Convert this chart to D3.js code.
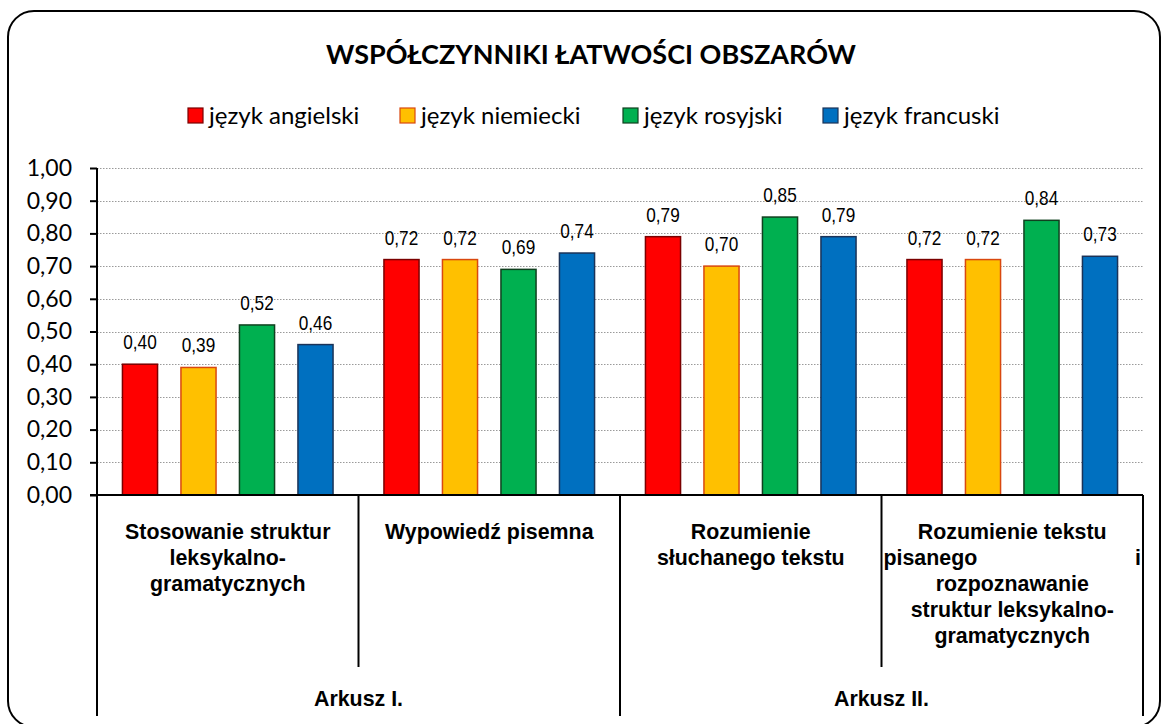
<!DOCTYPE html>
<html>
<head>
<meta charset="utf-8">
<script src="https://cdn.jsdelivr.net/npm/d3@7"></script>
<style>
  body { margin: 0; background: #fff; }
  svg { display: block; }
</style>
</head>
<body>
<div id="chart"></div>
<script>
// Data
const title = "WSPÓŁCZYNNIKI ŁATWOŚCI OBSZARÓW";
const series = ["język angielski", "język niemiecki", "język rosyjski", "język francuski"];
const categories = ["Stosowanie", "Wypowiedz", "Sluchany", "Pisany"];
const categoryLines = [
  ["Stosowanie struktur", "leksykalno-", "gramatycznych"],
  ["Wypowiedź pisemna"],
  ["Rozumienie", "słuchanego tekstu"],
  ["Rozumienie tekstu", "pisanego|i", "rozpoznawanie", "struktur leksykalno-", "gramatycznych"]
];
const sheets = ["Arkusz I.", "Arkusz II."];
const sheetOf = [0, 0, 1, 1];
const angielski = [0.40, 0.72, 0.79, 0.72];
const niemiecki = [0.39, 0.72, 0.70, 0.72];
const rosyjski  = [0.52, 0.69, 0.85, 0.84];
const francuski = [0.46, 0.74, 0.79, 0.73];
const yTicks = [0, 0.1, 0.2, 0.3, 0.4, 0.5, 0.6, 0.7, 0.8, 0.9, 1.0];

const fills   = ["#ff0000", "#ffc000", "#00b050", "#0070c0"];
const strokes = ["#7a0000", "#d9480f", "#10401f", "#1b3358"];
const values  = [angielski, niemiecki, rosyjski, francuski];

const W = 1162, H = 724;
const plot = { left: 97, right: 1143, top: 168, bottom: 495 };
const fmt = v => d3.format(".2f")(v).replace(".", ",");

const svg = d3.select("#chart").append("svg")
  .attr("width", W).attr("height", H);

// Arial Narrow look: Liberation Sans squeezed horizontally
function narrowText(parent, x, yy, anchor, txt, size, bold, sx = 0.82) {
  return parent.append("text")
    .attr("transform", `translate(${x},${yy}) scale(${sx},1)`)
    .attr("text-anchor", anchor)
    .style("font-family", "'Liberation Sans', Arial, sans-serif")
    .style("font-weight", bold ? "bold" : "normal")
    .style("font-size", size + "px")
    .text(txt);
}

// outer rounded frame
svg.append("rect")
  .attr("x", 8).attr("y", 11)
  .attr("width", 1152).attr("height", 716)
  .attr("rx", 26).attr("ry", 26)
  .attr("fill", "#fff")
  .attr("stroke", "#000")
  .attr("stroke-width", 2);

// title
svg.append("text")
  .attr("x", 591).attr("y", 64)
  .attr("text-anchor", "middle")
  .style("font-family", "Lato, 'Open Sans', sans-serif")
  .style("font-weight", "bold")
  .style("font-size", "27px")
  .text(title);

// legend
const legendX = [188, 400, 623, 823];
const legend = svg.append("g").attr("transform", "translate(0,116)");
series.forEach((s, i) => {
  legend.append("rect")
    .attr("x", legendX[i]).attr("y", -8)
    .attr("width", 15).attr("height", 15)
    .attr("fill", fills[i])
    .attr("stroke", strokes[i])
    .attr("stroke-width", 1.2);
  legend.append("text")
    .attr("x", legendX[i] + 21).attr("y", 8)
    .style("font-family", "Lato, 'Open Sans', sans-serif")
    .style("font-size", "24px")
    .text(s);
});

// scales
const y = d3.scaleLinear().domain([0, 1]).range([plot.bottom, plot.top]);
const x0 = d3.scaleBand().domain(categories).range([plot.left, plot.right]).padding(0);
const x1 = d3.scaleBand().domain(series).range([0, x0.bandwidth()])
  .paddingInner(0.4).paddingOuter(0.435);

// gridlines
svg.append("g")
  .selectAll("line")
  .data(yTicks.filter(d => d > 0))
  .join("line")
    .attr("x1", plot.left).attr("x2", plot.right)
    .attr("y1", d => Math.round(y(d)) + 0.5)
    .attr("y2", d => Math.round(y(d)) + 0.5)
    .attr("stroke", "#9a9a9a")
    .attr("stroke-width", 1)
    .attr("stroke-dasharray", "1.5,1.5");

// y axis
const yAxis = svg.append("g")
  .attr("transform", `translate(${plot.left},0)`)
  .call(d3.axisLeft(y).tickValues(yTicks).tickSize(7).tickPadding(18).tickFormat(fmt));
yAxis.select(".domain").attr("stroke", "#000").attr("stroke-width", 2).attr("d", `M0,${plot.top}V${plot.bottom}`);
yAxis.selectAll(".tick line").attr("stroke", "#000").attr("stroke-width", 2);
yAxis.selectAll(".tick text")
  .attr("fill", "#000")
  .style("font-family", "Lato, 'Open Sans', sans-serif")
  .style("font-size", "23px");

// bars
const groups = svg.append("g")
  .selectAll("g")
  .data(categories)
  .join("g")
    .attr("transform", d => `translate(${x0(d)},0)`);

groups.each(function(cat, ci) {
  const g = d3.select(this);
  series.forEach((s, si) => {
    const v = values[si][ci];
    g.append("rect")
      .attr("x", x1(s)).attr("y", y(v))
      .attr("width", x1.bandwidth())
      .attr("height", y(0) - y(v))
      .attr("fill", fills[si])
      .attr("stroke", strokes[si])
      .attr("stroke-width", 1.5);
    narrowText(g, x1(s) + x1.bandwidth() / 2, y(v) - 15, "middle", fmt(v), 21, false);
  });
});

// x axis baseline
svg.append("line")
  .attr("x1", plot.left - 7).attr("x2", plot.right)
  .attr("y1", plot.bottom).attr("y2", plot.bottom)
  .attr("stroke", "#000").attr("stroke-width", 2);

// category separators (short) and sheet separators (long)
const catBounds = categories.map(c => x0(c)).concat([plot.right]);
catBounds.forEach((bx, i) => {
  const isSheetEdge = i === 0 || i === catBounds.length - 1 || sheetOf[i] !== sheetOf[i - 1];
  svg.append("line")
    .attr("x1", bx).attr("x2", bx)
    .attr("y1", plot.bottom).attr("y2", isSheetEdge ? 716 : 667)
    .attr("stroke", "#000").attr("stroke-width", 2);
});

// category labels
const labSize = 23, labScale = 0.93;
categories.forEach((c, ci) => {
  const cx = x0(c) + x0.bandwidth() / 2;
  categoryLines[ci].forEach((line, li) => {
    const ly = 539 + li * 26;
    if (line.includes("|")) {
      const [l, r] = line.split("|");
      narrowText(svg, x0(c) + 2, ly, "start", l, labSize, true, labScale);
      narrowText(svg, x0(c) + x0.bandwidth() - 2, ly, "end", r, labSize, true, labScale);
    } else {
      narrowText(svg, cx, ly, "middle", line, labSize, true, labScale);
    }
  });
});

// sheet labels
sheets.forEach((s, si) => {
  const cats = categories.filter((c, i) => sheetOf[i] === si);
  const sx = (x0(cats[0]) + x0(cats[cats.length - 1]) + x0.bandwidth()) / 2;
  narrowText(svg, sx, 706, "middle", s, labSize, true, labScale);
});
</script>
</body>
</html>
